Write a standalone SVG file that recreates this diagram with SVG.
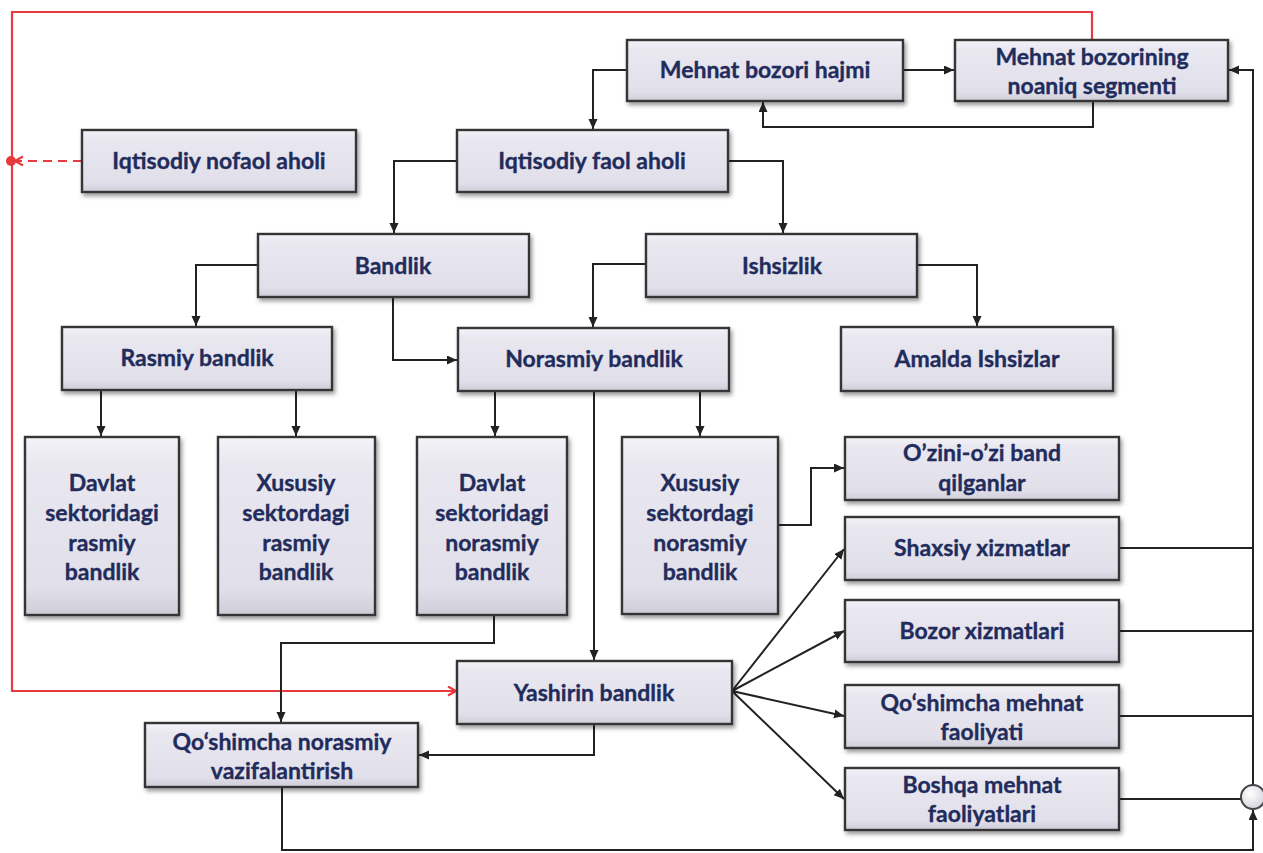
<svg xmlns="http://www.w3.org/2000/svg" width="1263" height="853" viewBox="0 0 1263 853">
<defs>
<style>
.box{fill:url(#g);stroke:#363636;stroke-width:2.4;filter:url(#sh)}
.t{font-family:Lato,"Open Sans","Liberation Sans",sans-serif;font-weight:700;font-size:23px;fill:#1f2c5c;stroke:#1f2c5c;stroke-width:0.35;text-anchor:middle}
.c{fill:none;stroke:#222;stroke-width:2}
.r{fill:none;stroke:#e8393f;stroke-width:2.2}
</style>
<linearGradient id="g" x1="0" y1="0" x2="0" y2="1">
<stop offset="0" stop-color="#f4f3f8"/>
<stop offset=".15" stop-color="#e9e7f0"/>
<stop offset=".85" stop-color="#e1dfe9"/>
<stop offset="1" stop-color="#cfccd8"/>
</linearGradient>
<radialGradient id="cg" cx=".4" cy=".35" r=".7">
<stop offset="0" stop-color="#ffffff"/>
<stop offset="1" stop-color="#d3d1dc"/>
</radialGradient>
<filter id="sh" x="-10%" y="-10%" width="130%" height="130%">
<feDropShadow dx="2" dy="3" stdDeviation="2" flood-color="#000" flood-opacity=".4"/>
</filter>
<marker id="a" markerUnits="userSpaceOnUse" markerWidth="11" markerHeight="10" refX="10" refY="4.5" orient="auto">
<path d="M0,0 L10,4.5 L0,9 z" fill="#222"/>
</marker>
<marker id="ra" markerUnits="userSpaceOnUse" markerWidth="12" markerHeight="12" refX="9" refY="5" orient="auto">
<path d="M1,0.5 L9,5 L1,9.5" fill="none" stroke="#e8393f" stroke-width="2.2"/>
</marker>
</defs>
<rect width="1263" height="853" fill="#ffffff"/>

<g id="connectors">
<path class="r" d="M1092,40 V12 H12 V691 H456" marker-end="url(#ra)"/>
<path class="r" d="M82,161 H15" stroke-dasharray="9,6" marker-end="url(#ra)"/>
<circle cx="11" cy="161" r="5" fill="#e8393f"/>
<path class="c" d="M627,70 H593 V129" marker-end="url(#a)"/>
<path class="c" d="M903,70 H954" marker-end="url(#a)"/>
<path class="c" d="M1093,101 V127 H763 V102" marker-end="url(#a)"/>
<path class="c" d="M457,161 H394 V233" marker-end="url(#a)"/>
<path class="c" d="M728,161 H783 V233" marker-end="url(#a)"/>
<path class="c" d="M258,265 H196 V326" marker-end="url(#a)"/>
<path class="c" d="M393,297 V360 H457" marker-end="url(#a)"/>
<path class="c" d="M646,264 H593 V327" marker-end="url(#a)"/>
<path class="c" d="M917,265 H977 V326" marker-end="url(#a)"/>
<path class="c" d="M101,390 V436" marker-end="url(#a)"/>
<path class="c" d="M296,390 V436" marker-end="url(#a)"/>
<path class="c" d="M495,391 V436" marker-end="url(#a)"/>
<path class="c" d="M700,391 V436" marker-end="url(#a)"/>
<path class="c" d="M594,391 V660" marker-end="url(#a)"/>
<path class="c" d="M779,525 H811 V468 H844" marker-end="url(#a)"/>
<path class="c" d="M732,691 L844,549" marker-end="url(#a)"/>
<path class="c" d="M732,691 L844,631" marker-end="url(#a)"/>
<path class="c" d="M732,691 L844,716" marker-end="url(#a)"/>
<path class="c" d="M732,691 L844,799" marker-end="url(#a)"/>
<path class="c" d="M494,615 V643 H281 V722" marker-end="url(#a)"/>
<path class="c" d="M594,724 V755 H419" marker-end="url(#a)"/>
<path class="c" d="M282,787 V850 H1253 V810" marker-end="url(#a)"/>
<path class="c" d="M1253,785 V70 H1229" marker-end="url(#a)"/>
<path class="c" d="M1119,548 H1253"/>
<path class="c" d="M1119,631 H1253"/>
<path class="c" d="M1119,716 H1253"/>
<path class="c" d="M1119,799 H1241"/>
<circle cx="1253" cy="797" r="12" fill="url(#cg)" stroke="#444" stroke-width="2"/>
</g>

<g id="n-mbh"><rect class="box" x="627" y="40" width="276" height="61"/><text class="t" x="765" y="78">Mehnat bozori hajmi</text></g>
<g id="n-mbns"><rect class="box" x="955" y="40" width="273" height="61"/><text class="t" x="1092" y="65">Mehnat bozorining</text><text class="t" x="1092" y="94">noaniq segmenti</text></g>
<g id="n-in"><rect class="box" x="82" y="130" width="274" height="62"/><text class="t" x="219" y="169">Iqtisodiy nofaol aholi</text></g>
<g id="n-if"><rect class="box" x="457" y="130" width="271" height="62"/><text class="t" x="592" y="169">Iqtisodiy faol aholi</text></g>
<g id="n-bandlik"><rect class="box" x="258" y="234" width="271" height="63"/><text class="t" x="393" y="274">Bandlik</text></g>
<g id="n-ishsizlik"><rect class="box" x="646" y="234" width="271" height="63"/><text class="t" x="782" y="274">Ishsizlik</text></g>
<g id="n-rasmiy"><rect class="box" x="62" y="327" width="270" height="63"/><text class="t" x="197" y="366">Rasmiy bandlik</text></g>
<g id="n-norasmiy"><rect class="box" x="458" y="328" width="271" height="63"/><text class="t" x="594" y="367">Norasmiy bandlik</text></g>
<g id="n-amalda"><rect class="box" x="841" y="327" width="272" height="64"/><text class="t" x="977" y="367">Amalda Ishsizlar</text></g>
<g id="n-d1"><rect class="box" x="25" y="437" width="154" height="178"/><text class="t" x="102" y="491">Davlat</text><text class="t" x="102" y="521">sektoridagi</text><text class="t" x="102" y="551">rasmiy</text><text class="t" x="102" y="580">bandlik</text></g>
<g id="n-x1"><rect class="box" x="218" y="437" width="157" height="178"/><text class="t" x="296" y="491">Xususiy</text><text class="t" x="296" y="521">sektordagi</text><text class="t" x="296" y="551">rasmiy</text><text class="t" x="296" y="580">bandlik</text></g>
<g id="n-d2"><rect class="box" x="417" y="437" width="150" height="178"/><text class="t" x="492" y="491">Davlat</text><text class="t" x="492" y="521">sektoridagi</text><text class="t" x="492" y="551">norasmiy</text><text class="t" x="492" y="580">bandlik</text></g>
<g id="n-x2"><rect class="box" x="622" y="437" width="156" height="177"/><text class="t" x="700" y="491">Xususiy</text><text class="t" x="700" y="521">sektordagi</text><text class="t" x="700" y="551">norasmiy</text><text class="t" x="700" y="580">bandlik</text></g>
<g id="n-ozini"><rect class="box" x="845" y="437" width="274" height="63"/><text class="t" x="982" y="461">O’zini-o’zi band</text><text class="t" x="982" y="491">qilganlar</text></g>
<g id="n-shaxsiy"><rect class="box" x="845" y="517" width="274" height="63"/><text class="t" x="982" y="556">Shaxsiy xizmatlar</text></g>
<g id="n-bozor"><rect class="box" x="845" y="600" width="274" height="62"/><text class="t" x="982" y="639">Bozor xizmatlari</text></g>
<g id="n-qmf"><rect class="box" x="845" y="685" width="274" height="63"/><text class="t" x="982" y="711">Qo‘shimcha mehnat</text><text class="t" x="982" y="740">faoliyati</text></g>
<g id="n-boshqa"><rect class="box" x="845" y="768" width="274" height="62"/><text class="t" x="982" y="793">Boshqa mehnat</text><text class="t" x="982" y="822">faoliyatlari</text></g>
<g id="n-yashirin"><rect class="box" x="457" y="661" width="275" height="63"/><text class="t" x="594" y="701">Yashirin bandlik</text></g>
<g id="n-qnv"><rect class="box" x="145" y="723" width="273" height="64"/><text class="t" x="282" y="750">Qo‘shimcha norasmiy</text><text class="t" x="282" y="779">vazifalantirish</text></g>
</svg>
